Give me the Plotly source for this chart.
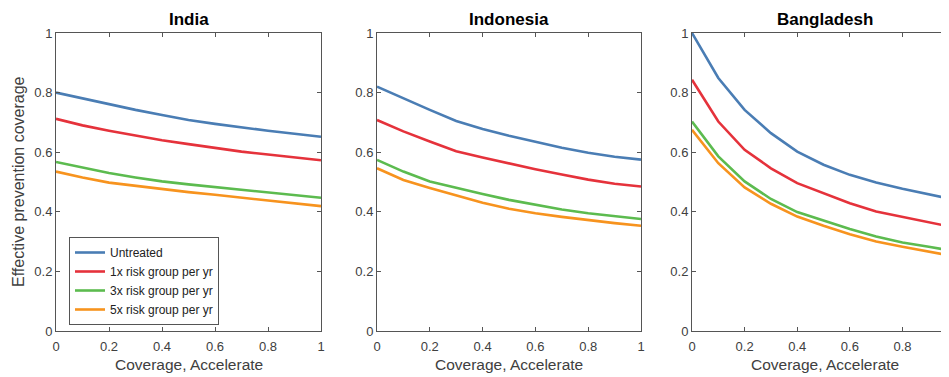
import plotly.graph_objects as go

coverage = [0.0, 0.1, 0.2, 0.3, 0.4, 0.5, 0.6, 0.7, 0.8, 0.9, 1.0]
series_names = ["Untreated", "1x risk group per yr", "3x risk group per yr", "5x risk group per yr"]
colors = ["#4a7db4", "#e5323b", "#5cbb4f", "#f7931e"]
countries = ["India", "Indonesia", "Bangladesh"]

india_untreated = [0.800, 0.780, 0.760, 0.742, 0.725, 0.708, 0.695, 0.683, 0.672, 0.662, 0.652]
india_1x = [0.712, 0.690, 0.672, 0.655, 0.640, 0.627, 0.614, 0.602, 0.592, 0.582, 0.573]
india_3x = [0.567, 0.548, 0.530, 0.515, 0.502, 0.492, 0.483, 0.474, 0.465, 0.456, 0.447]
india_5x = [0.535, 0.515, 0.498, 0.487, 0.476, 0.466, 0.457, 0.447, 0.437, 0.428, 0.419]

indonesia_untreated = [0.820, 0.780, 0.742, 0.705, 0.678, 0.655, 0.635, 0.615, 0.598, 0.585, 0.575]
indonesia_1x = [0.708, 0.670, 0.636, 0.603, 0.582, 0.562, 0.543, 0.525, 0.508, 0.494, 0.485]
indonesia_3x = [0.574, 0.535, 0.502, 0.480, 0.460, 0.440, 0.423, 0.408, 0.395, 0.385, 0.376]
indonesia_5x = [0.546, 0.507, 0.480, 0.455, 0.430, 0.410, 0.395, 0.383, 0.372, 0.362, 0.353]

bangladesh_untreated = [1.000, 0.849, 0.742, 0.664, 0.602, 0.558, 0.524, 0.498, 0.477, 0.457, 0.440]
bangladesh_1x = [0.843, 0.703, 0.608, 0.546, 0.496, 0.462, 0.429, 0.401, 0.382, 0.364, 0.347]
bangladesh_3x = [0.703, 0.586, 0.502, 0.443, 0.399, 0.370, 0.342, 0.317, 0.297, 0.283, 0.267]
bangladesh_5x = [0.675, 0.563, 0.482, 0.427, 0.384, 0.353, 0.325, 0.300, 0.283, 0.267, 0.250]

data = [
    [india_untreated, india_1x, india_3x, india_5x],
    [indonesia_untreated, indonesia_1x, indonesia_3x, indonesia_5x],
    [bangladesh_untreated, bangladesh_1x, bangladesh_3x, bangladesh_5x],
]

# page body has an 8px default margin; figure is sized to fill the rest of the window
OFF = 8
W, H = 949 - OFF, 377 - OFF


def px(x):
    return (x - OFF) / W


def py(y):
    return (H - (y - OFF)) / H


x_domains = [[px(56), px(321)], [px(377), px(641)], [px(692), 1.0]]
y_domain = [py(331), py(33)]
x_ranges = [[0, 1], [0, 1], [0, 0.977]]
tick_vals = [0, 0.2, 0.4, 0.6, 0.8, 1]
tick_text = ["0", "0.2", "0.4", "0.6", "0.8", "1"]
panel_centers = [px((56 + 321) / 2), px((377 + 641) / 2), px((692 + 957) / 2)]

fig = go.Figure()
font_fam = "Liberation Sans, Arial, sans-serif"
axis_color = "#555555"
tick_font = dict(family=font_fam, size=13, color="#404040")

for p in range(3):
    xa = "x" if p == 0 else f"x{p+1}"
    ya = "y" if p == 0 else f"y{p+1}"
    for s in range(4):
        fig.add_trace(go.Scatter(
            x=coverage, y=data[p][s], mode="lines",
            line=dict(color=colors[s], width=2.6),
            name=series_names[s], showlegend=(p == 0),
            xaxis=xa, yaxis=ya,
        ))
    xkey = "xaxis" if p == 0 else f"xaxis{p+1}"
    ykey = "yaxis" if p == 0 else f"yaxis{p+1}"
    fig.update_layout({
        xkey: dict(domain=x_domains[p], range=x_ranges[p], anchor=ya,
                   tickvals=tick_vals, ticktext=tick_text,
                   ticks="inside", ticklen=4, tickcolor=axis_color,
                   showline=True, linecolor=axis_color, linewidth=1, mirror="ticks",
                   showgrid=False, zeroline=False, tickfont=tick_font, fixedrange=True,
                   automargin=False, ticklabelstandoff=3),
        ykey: dict(domain=y_domain, range=[0, 1], anchor=xa,
                   tickvals=tick_vals, ticktext=tick_text,
                   ticks="inside", ticklen=4, tickcolor=axis_color,
                   showline=True, linecolor=axis_color, linewidth=1,
                   mirror=("ticks" if p < 2 else False),
                   showgrid=False, zeroline=False, tickfont=tick_font, fixedrange=True,
                   automargin=False),
    })
    fig.add_annotation(text="<b>" + countries[p] + "</b>", xref="paper", yref="paper",
                       x=panel_centers[p], y=py(20), showarrow=False, xanchor="center", yanchor="middle",
                       font=dict(family=font_fam, size=17, color="#000000"))
    fig.add_annotation(text="Coverage, Accelerate", xref="paper", yref="paper",
                       x=panel_centers[p], y=py(364), showarrow=False, xanchor="center", yanchor="middle",
                       font=dict(family=font_fam, size=15.5, color="#404040"))

fig.add_annotation(text="Effective prevention coverage", xref="paper", yref="paper",
                   x=px(18), y=py(182), showarrow=False, textangle=-90,
                   xanchor="center", yanchor="middle",
                   font=dict(family=font_fam, size=16, color="#404040"))

fig.update_layout(
    width=W, height=H, margin=dict(l=0, r=0, t=0, b=0),
    paper_bgcolor="white", plot_bgcolor="white",
    legend=dict(x=px(69), y=py(325), xanchor="left", yanchor="bottom",
                bgcolor="white", bordercolor=axis_color, borderwidth=1,
                font=dict(family=font_fam, size=12, color="#222222"),
                tracegroupgap=0, itemwidth=30),
)

fig.write_html("out.html")
